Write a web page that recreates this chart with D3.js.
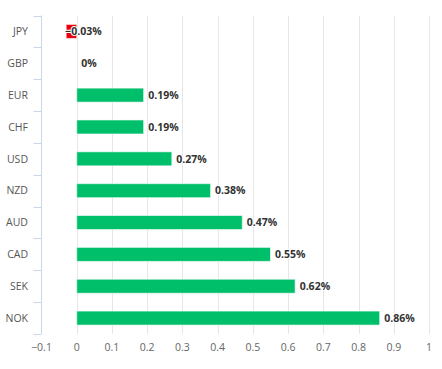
<!DOCTYPE html>
<html>
<head>
<meta charset="utf-8">
<script src="https://cdn.jsdelivr.net/npm/d3@7"></script>
<style>
  body { margin: 0; background: #fff; }
  svg { display: block; font-family: "Open Sans", "Noto Sans", sans-serif; }
</style>
</head>
<body>
<div id="chart"></div>
<script>
// Chart data
var currencies = ["JPY", "GBP", "EUR", "CHF", "USD", "NZD", "AUD", "CAD", "SEK", "NOK"];
var changes    = [-0.03, 0, 0.19, 0.19, 0.27, 0.38, 0.47, 0.55, 0.62, 0.86];
var xTicks     = [-0.1, 0, 0.1, 0.2, 0.3, 0.4, 0.5, 0.6, 0.7, 0.8, 0.9, 1];

var width = 442, height = 369;
var plotLeft = 41.5, plotRight = 429, plotTop = 15.5, plotBottom = 334;

var svg = d3.select("#chart").append("svg")
    .attr("width", width)
    .attr("height", height);

var x = d3.scaleLinear().domain([-0.1, 1]).range([plotLeft, plotRight]);
var y = d3.scaleBand().domain(currencies).range([plotTop, plotBottom])
    .paddingInner(0.56).paddingOuter(0.28);

// vertical grid lines
svg.append("g")
  .selectAll("line")
  .data(xTicks.slice(1))
  .enter().append("line")
    .attr("x1", d => Math.round(x(d)) + 0.5)
    .attr("x2", d => Math.round(x(d)) + 0.5)
    .attr("y1", plotTop)
    .attr("y2", plotBottom)
    .attr("stroke", "#e6e6e6");

// x axis labels (no axis line)
svg.append("g")
  .selectAll("text")
  .data(xTicks)
  .enter().append("text")
    .attr("x", d => x(d))
    .attr("y", 351)
    .attr("text-anchor", "middle")
    .attr("font-size", "10.5px")
    .attr("fill", "#666")
    .text(d => d < 0 ? "\u2212" + Math.abs(d) : d);

// y axis line with ticks at band boundaries
svg.append("line")
    .attr("x1", plotLeft).attr("x2", plotLeft)
    .attr("y1", plotTop).attr("y2", plotBottom)
    .attr("stroke", "#ccd6eb");

var bounds = currencies.map(c => y(c) - y.step() * y.paddingInner() / 2);
bounds.push(plotBottom);
bounds[0] = plotTop;
svg.append("g")
  .selectAll("line")
  .data(bounds)
  .enter().append("line")
    .attr("x1", plotLeft - 8).attr("x2", plotLeft)
    .attr("y1", d => Math.round(d) + 0.5)
    .attr("y2", d => Math.round(d) + 0.5)
    .attr("stroke", "#ccd6eb");

svg.append("g")
  .selectAll("text")
  .data(currencies)
  .enter().append("text")
    .attr("x", 28)
    .attr("y", d => y(d) + y.bandwidth() / 2)
    .attr("dy", "0.35em")
    .attr("text-anchor", "end")
    .attr("font-size", "10.5px")
    .attr("fill", "#555")
    .text(d => d);

// bars
svg.append("g")
  .selectAll("rect")
  .data(currencies)
  .enter().append("rect")
    .attr("x", (d, i) => x(Math.min(0, changes[i])))
    .attr("y", d => y(d))
    .attr("width", (d, i) => Math.abs(x(changes[i]) - x(0)))
    .attr("height", y.bandwidth())
    .attr("fill", (d, i) => changes[i] < 0 ? "#e8000b" : "#00bf6a")
    .attr("stroke", "#fff")
    .attr("stroke-opacity", 0.6)
    .attr("stroke-width", 1);

// value labels, white outline like the original
svg.append("g")
  .selectAll("text")
  .data(currencies)
  .enter().append("text")
    .attr("x", (d, i) => x(changes[i]) + (changes[i] < 0 ? -1 : 4.5))
    .attr("y", d => y(d) + y.bandwidth() / 2)
    .attr("dy", "0.35em")
    .attr("font-size", "10.5px")
    .attr("font-weight", "bold")
    .attr("fill", "#333")
    .attr("stroke", "#fff")
    .attr("stroke-width", 2)
    .attr("stroke-linejoin", "round")
    .attr("paint-order", "stroke")
    .text((d, i) => (changes[i] < 0 ? "\u2212" + Math.abs(changes[i]) : changes[i]) + "%");
</script>
</body>
</html>
